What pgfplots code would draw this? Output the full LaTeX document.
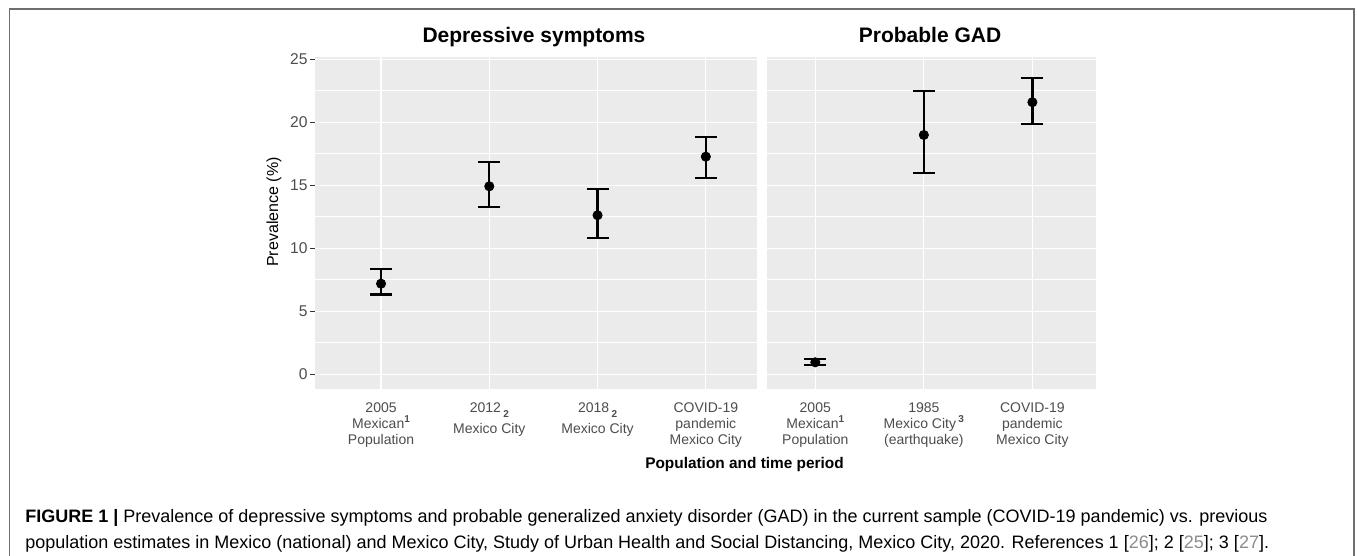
\documentclass[border=0pt]{standalone}
\usepackage{pgfplots}
\pgfplotsset{compat=1.18}
\usepackage{fontspec}
\setmainfont{Liberation Sans}
\definecolor{panelbg}{HTML}{EBEBEB}
\definecolor{ticktxt}{HTML}{4D4D4D}
\definecolor{tickcol}{HTML}{333333}
\definecolor{framecol}{HTML}{6E6E6E}
\definecolor{refcol}{HTML}{8C8C8C}
\newcommand{\lsub}[1]{\raisebox{-2.2pt}{\fontsize{5}{5}\selectfont\bfseries #1}}
\newcommand{\lsup}[1]{\raisebox{3.2pt}{\fontsize{5}{5}\selectfont\bfseries #1}}
\pgfplotsset{ggp/.style={
  scale only axis,
  height=166pt,
  /pgf/number format/assume math mode=true,
  axis background/.style={fill=panelbg},
  axis line style={draw=none},
  ymin=-1.13, ymax=25.22,
  ytick={0,5,...,25},
  minor ytick={2.5,7.5,...,22.5},
  xtick={1,2,3,4},
  grid=both,
  major grid style={white, line width=0.65pt},
  minor grid style={white, line width=0.35pt},
  tick align=outside,
  xtick pos=bottom, ytick pos=left,
  major tick length=2.5pt, minor tick length=0pt,
  xtick style={draw=none},
  ytick style={tickcol, line width=0.5pt},
  yticklabel style={font=\fontsize{7.8}{8}\selectfont, text=ticktxt, inner sep=1pt},
  xticklabel style={font=\fontsize{7}{7.8}\selectfont, text=ticktxt, align=center, anchor=north, inner sep=0pt, yshift=-4.6pt},
  errplot/.style={only marks, mark=*, mark size=2.3pt, black,
    error bars/.cd, y dir=both, y explicit,
    error bar style={line width=1.15pt, black},
    error mark options={rotate=90, black, line width=1.15pt, mark size=5.5pt}},
}}
\begin{document}
\begin{tikzpicture}[x=0.5pt,y=-0.5pt]
\path[use as bounding box, fill=white] (0,0) rectangle (1357,556);
\draw[framecol, line width=0.85pt] (9.5,600) -- (9.5,9) -- (1354.3,9) -- (1354.3,600);
\coordinate (p1) at (315,388.5);
\coordinate (p2) at (767.3,388.5);

\begin{axis}[ggp, at={(p1)}, anchor=south west, width=220.85pt,
  xmin=0.39, xmax=4.47,
  xticklabels={{2005\\Mexican\lsup{1}\\Population},{2012\,\lsub{2}\\[2.4pt]Mexico City},{2018\,\lsub{2}\\[2.4pt]Mexico City},{COVID-19\\pandemic\\Mexico City}}]
\addplot[errplot] coordinates {
  (1,7.19) += (0,1.14) -= (0,0.87)
  (2,14.92) += (0,1.93) -= (0,1.64)
  (3,12.62) += (0,2.11) -= (0,1.83)
  (4,17.27) += (0,1.56) -= (0,1.69)
};
\end{axis}

\begin{axis}[ggp, at={(p2)}, anchor=south west, width=164.35pt,
  xmin=0.558, xmax=3.586, yticklabels={}, ytick style={draw=none},
  xticklabels={{2005\\Mexican\lsup{1}\\Population},{1985\\Mexico City\,\lsup{3}\\(earthquake)},{COVID-19\\pandemic\\Mexico City}}]
\addplot[errplot] coordinates {
  (1,0.95) += (0,0.26) -= (0,0.21)
  (2,18.99) += (0,3.49) -= (0,2.99)
  (3,21.59) += (0,1.93) -= (0,1.72)
};
\end{axis}

\node[anchor=base, font=\fontsize{10.5}{12}\selectfont\bfseries] at (534,42.5) {Depressive symptoms};
\node[anchor=base, font=\fontsize{10.5}{12}\selectfont\bfseries] at (930,42.5) {Probable GAD};
\node[rotate=90, font=\fontsize{8}{9}\selectfont, text=black] at (274,212) {Prevalence (\%)};
\node[anchor=base, font=\fontsize{7.7}{9}\selectfont\bfseries] at (744.5,468.3) {Population and time period};

\node[anchor=base west, inner sep=0pt, font=\fontsize{9}{10}\selectfont] at (25,522)
  {\textbf{FIGURE 1 |} Prevalence of depressive symptoms and probable generalized anxiety disorder (GAD) in the current sample (COVID-19 pandemic) vs. previous};
\node[anchor=base west, inner sep=0pt, font=\fontsize{9}{10}\selectfont] at (25,548)
  {population estimates in Mexico (national) and Mexico City, Study of Urban Health and Social Distancing, Mexico City, 2020. References 1 [\textcolor{refcol}{26}]; 2 [\textcolor{refcol}{25}]; 3 [\textcolor{refcol}{27}].};
\end{tikzpicture}
\end{document}
